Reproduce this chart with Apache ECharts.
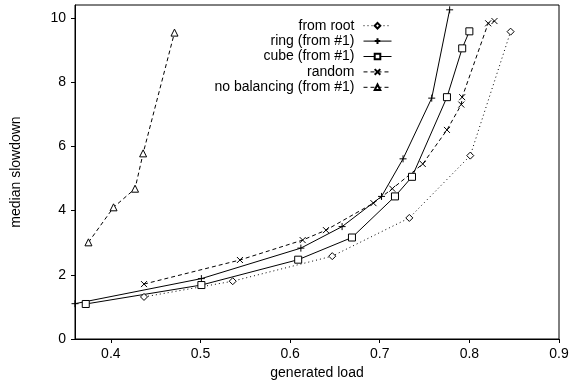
<!DOCTYPE html>
<html><head><meta charset="utf-8">
<script src="https://cdn.jsdelivr.net/npm/echarts@6/dist/echarts.min.js"></script>
<style>html,body{margin:0;padding:0;background:#fff}#c{width:575px;height:385px}</style>
</head><body><div id="c"></div>
<script>
const xTicks = [0.4, 0.5, 0.6, 0.7, 0.8, 0.9];
const yTicks = [0, 2, 4, 6, 8, 10];
const seriesNames = ['from root', 'ring (from #1)', 'cube (from #1)', 'random', 'no balancing (from #1)'];
const fromRootX = [0.437, 0.536, 0.647, 0.733, 0.801, 0.846];
const fromRootY = [1.31, 1.80, 2.58, 3.77, 5.71, 9.57];
const ringX = [0.360, 0.501, 0.612, 0.658, 0.702, 0.726, 0.758, 0.778];
const ringY = [1.10, 1.88, 2.83, 3.50, 4.44, 5.61, 7.50, 10.25];
const cubeX = [0.372, 0.501, 0.609, 0.669, 0.717, 0.736, 0.775, 0.792, 0.800];
const cubeY = [1.09, 1.68, 2.47, 3.16, 4.44, 5.05, 7.53, 9.05, 9.58];
const randomX = [0.437, 0.544, 0.614, 0.640, 0.693, 0.714, 0.748, 0.775, 0.791, 0.792, 0.821, 0.828];
const randomY = [1.71, 2.46, 3.08, 3.39, 4.23, 4.68, 5.45, 6.51, 7.30, 7.53, 9.83, 9.90];
const noBalX = [0.375, 0.403, 0.427, 0.436, 0.471];
const noBalY = [3.01, 4.10, 4.68, 5.78, 9.54];

function pts(xs, ys) { return xs.map((x, i) => [x, ys[i]]); }
const FONT = 'Liberation Sans, Arial, sans-serif';
const plusPath = 'path://M0,5L10,5M5,0L5,10';
const crossPath = 'path://M0,0L10,10M10,0L0,10';

function mk(name, data, symbol, lineType, size) {
  return {
    name: name, type: 'line', data: data, symbol: symbol, symbolSize: size,
    showAllSymbol: true,
    lineStyle: { color: '#000', width: 1, type: lineType },
    itemStyle: { color: '#fff', borderColor: '#000', borderWidth: 1 },
    emphasis: { disabled: true }, animation: false
  };
}

const chart = echarts.init(document.getElementById('c'), null, { renderer: 'canvas' });
chart.setOption({
  animation: false,
  backgroundColor: '#fff',
  textStyle: { fontFamily: FONT },
  grid: { left: 75, right: 16, top: 5, bottom: 39, show: true, borderColor: '#000', borderWidth: 1, backgroundColor: 'transparent' },
  legend: {
    orient: 'vertical', align: 'right', right: 183, top: 18, padding: 0,
    itemWidth: 28, itemHeight: 7, itemGap: 0,
    lineStyle: { width: 1 },
    textStyle: { fontFamily: FONT, fontSize: 14, color: '#000', padding: [0, 4, 0, 0], lineHeight: 15.4 },
    data: seriesNames, inactiveColor: '#000', selectedMode: false
  },
  xAxis: {
    type: 'value', min: 0.36, max: 0.9,
    name: 'generated load', nameLocation: 'middle', nameGap: 27,
    nameTextStyle: { fontFamily: FONT, fontSize: 14, color: '#000' },
    axisLine: { show: true, lineStyle: { color: '#000', width: 1 } },
    axisTick: { show: true, length: 4, customValues: xTicks, lineStyle: { color: '#000' } },
    axisLabel: { customValues: xTicks, fontFamily: FONT, fontSize: 14, color: '#000', margin: 8,
      formatter: v => v.toFixed(1) },
    splitLine: { show: false }
  },
  yAxis: {
    type: 'value', min: 0, max: 10.4,
    name: 'median slowdown', nameLocation: 'middle', nameGap: 52,
    nameTextStyle: { fontFamily: FONT, fontSize: 14, color: '#000' },
    axisLine: { show: true, lineStyle: { color: '#000', width: 1 } },
    axisTick: { show: true, length: 4, customValues: yTicks, lineStyle: { color: '#000' } },
    axisLabel: { customValues: yTicks, fontFamily: FONT, fontSize: 14, color: '#000', margin: 9 },
    splitLine: { show: false }
  },
  series: [
    mk(seriesNames[0], pts(fromRootX, fromRootY), 'diamond', [1, 3], 7),
    mk(seriesNames[1], pts(ringX, ringY), plusPath, 'solid', 7),
    mk(seriesNames[2], pts(cubeX, cubeY), 'rect', 'solid', 7),
    mk(seriesNames[3], pts(randomX, randomY), crossPath, [4, 3], 6),
    mk(seriesNames[4], pts(noBalX, noBalY), 'triangle', [4, 3], 7)
  ]
});
</script></body></html>
